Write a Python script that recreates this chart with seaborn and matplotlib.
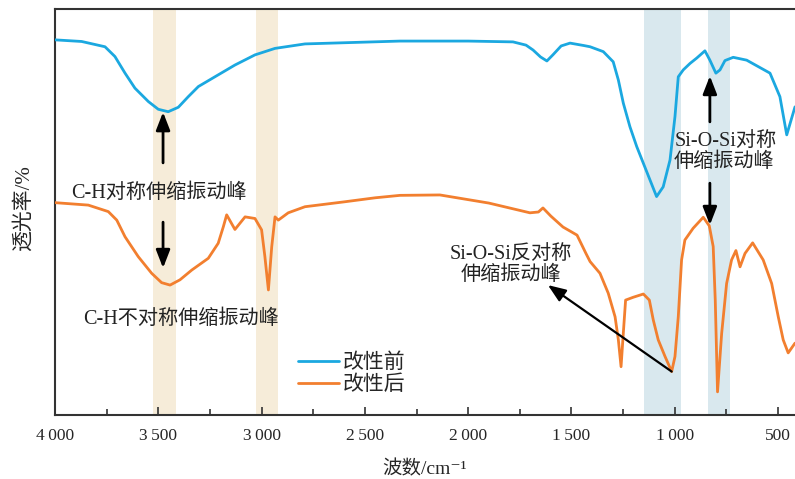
import numpy as np
import pandas as pd
import seaborn as sns
import matplotlib
matplotlib.use("Agg")
import matplotlib.pyplot as plt

# FTIR spectra: wavenumber (cm^-1) and transmittance (arb. units)
wn_before = [4000, 3871, 3758, 3710, 3661, 3613, 3548, 3500, 3452, 3403, 3355, 3306,
             3226, 3129, 3032, 2935, 2790, 2330, 2000, 1783, 1720, 1686, 1650, 1619,
             1590, 1550, 1507, 1440, 1410, 1346, 1298, 1273, 1249, 1217, 1184, 1152,
             1120, 1088, 1056, 1023, 999, 983, 959, 926, 894, 854, 830, 801, 781,
             757, 717, 652, 539, 491, 458, 418]
t_before = [92.4, 92.0, 90.7, 88.3, 84.2, 80.5, 77.2, 75.3, 74.7, 75.8, 78.4, 80.9,
            83.3, 86.2, 88.7, 90.3, 91.4, 92.1, 92.1, 91.9, 91.1, 89.9, 88.2, 87.2,
            88.7, 90.9, 91.6, 91.0, 90.7, 89.5, 87.0, 82.5, 76.8, 71.0, 66.1, 62.0,
            57.9, 53.8, 56.2, 62.8, 73.5, 83.3, 85.0, 86.6, 87.9, 89.7, 87.4, 84.2, 85.0,
            87.3, 88.1, 87.4, 84.2, 78.4, 69.0, 75.9]

wn_after = [4000, 3839, 3742, 3701, 3661, 3597, 3532, 3484, 3443, 3395, 3338, 3258,
            3210, 3185, 3169, 3129, 3080, 3032, 3000, 2984, 2967, 2951, 2935, 2919,
            2871, 2790, 2600, 2450, 2330, 2137, 1900, 1701, 1660, 1638, 1600, 1541, 1500,
            1473, 1430, 1410, 1362, 1322, 1289, 1273, 1260, 1249, 1238, 1201, 1152,
            1123, 1104, 1080, 1047, 1015, 999, 983, 967, 951, 911, 862, 833, 814,
            804, 793, 773, 749, 725, 704, 684, 660, 623, 572, 531, 499, 475, 451, 418]
t_after = [52.3, 51.7, 50.1, 48.0, 43.9, 39.0, 34.9, 32.6, 32.0, 33.3, 35.7, 38.6,
           42.3, 46.4, 49.3, 45.7, 48.8, 48.4, 45.6, 39.0, 30.8, 41.4, 48.8, 48.0,
           49.8, 51.3, 52.5, 53.5, 54.1, 54.2, 52.2, 49.8, 50.0, 51.0, 49.0, 46.3, 45.1,
           44.3, 39.8, 37.8, 34.9, 30.0, 24.2, 18.5, 11.9, 20.2, 28.3, 29.0, 29.8,
           28.3, 23.4, 18.5, 14.4, 10.7, 14.4, 24.2, 38.2, 43.1, 46.0, 48.7, 46.6, 41.5,
           28.3, 5.7, 20.1, 32.4, 38.2, 40.5, 36.5, 39.8, 42.4, 38.2, 32.4, 24.2, 18.5, 15.3, 17.7]

series_names = ["改性前", "改性后"]
series_colors = ["#1ba8e0", "#f27f2f"]

# highlighted absorption regions (cm^-1)
ch_bands = [(3526, 3414), (3027, 2921)]
sio_bands = [(1149, 970), (839, 733)]

x_ticks = [4000, 3500, 3000, 2500, 2000, 1500, 1000, 500]
x_ticklabels = ["4\u2009000", "3\u2009500", "3\u2009000", "2\u2009500",
                "2\u2009000", "1\u2009500", "1\u2009000", "500"]

sns.set_theme(style="ticks")
fam = ["Liberation Serif", "Noto Sans CJK SC", "DejaVu Sans"]
plt.rcParams["font.family"] = fam
plt.rcParams["axes.unicode_minus"] = False

df = pd.concat([
    pd.DataFrame({"wn": wn_before, "T": t_before, "样品": series_names[0]}),
    pd.DataFrame({"wn": wn_after, "T": t_after, "样品": series_names[1]}),
])

fig = plt.figure(figsize=(7.95, 4.79), dpi=100)
ax = fig.add_axes([55 / 795, 64 / 479, 740 / 795, 406 / 479])

for lo, hi in ch_bands:
    ax.axvspan(lo, hi, color="#f6ecd9", lw=0, zorder=0)
for lo, hi in sio_bands:
    ax.axvspan(lo, hi, color="#d9e8ee", lw=0, zorder=0)

sns.lineplot(data=df, x="wn", y="T", hue="样品", hue_order=series_names,
             palette=series_colors, linewidth=2.0, ax=ax, legend=False, zorder=3,
             solid_joinstyle="round", solid_capstyle="round")

ax.set_xlim(4000, 418)
ax.set_ylim(0, 100)
ax.set_xticks(x_ticks)
ax.set_xticklabels(x_ticklabels, fontsize=12.5)
ax.set_xticks(np.arange(3750, 400, -500), minor=True)
ax.set_yticks([])
ax.tick_params(axis="x", which="major", direction="in", length=6, width=1.2,
               color="#333333", pad=9)
ax.tick_params(axis="x", which="minor", direction="in", length=4, width=1.2,
               color="#333333")
for side in ["left", "top", "bottom"]:
    ax.spines[side].set_color("#333333")
    ax.spines[side].set_linewidth(1.5)
ax.spines["right"].set_visible(False)

ax.set_xlabel("波数/cm⁻¹", fontsize=14, labelpad=12)
ax.set_ylabel("透光率/%", fontsize=15)
ax.yaxis.set_label_coords(-0.029, 0.51)

arrow_kw = dict(arrowstyle="-|>,head_length=0.9,head_width=0.35", color="black",
                lw=2.0, shrinkA=0, shrinkB=0)
txt_kw = dict(fontsize=14.5, color="#222222", family=fam)

# C-H bands
ax.annotate("", xy=(3477, 74.6), xytext=(3477, 62.1), arrowprops=arrow_kw)
ax.annotate("", xy=(3477, 36.2), xytext=(3477, 47.5), arrowprops=arrow_kw)
ax.text(3498, 54.7, "C-H对称伸缩振动峰", ha="center", va="center", **txt_kw)
ax.text(3390, 23.6, "C-H不对称伸缩振动峰", ha="center", va="center", **txt_kw)

# Si-O-Si symmetric stretching
ax.annotate("", xy=(830, 83.5), xytext=(830, 72.2), arrowprops=arrow_kw)
ax.annotate("", xy=(830, 46.8), xytext=(830, 57.1), arrowprops=arrow_kw)
ax.text(1003, 64.7, "Si-O-Si对称\n伸缩振动峰", ha="left", va="center",
        linespacing=1.1, **txt_kw)

# Si-O-Si antisymmetric stretching
ax.annotate("", xy=(1614, 32.0), xytext=(1015, 10.7),
            arrowprops=dict(arrowstyle="-|>,head_length=0.9,head_width=0.35",
                            color="black", lw=1.6, shrinkA=0, shrinkB=0))
ax.text(1793, 36.9, "Si-O-Si反对称\n伸缩振动峰", ha="center", va="center",
        linespacing=1.1, **txt_kw)

handles = [plt.Line2D([], [], color=c, lw=2.0) for c in series_colors]
ax.legend(handles, series_names, loc="center left", bbox_to_anchor=(0.314, 0.100),
          frameon=False, handlelength=2.0, handletextpad=0.15,
          labelspacing=0.12, borderpad=0, prop={"family": fam, "size": 15})

fig.savefig("out.png", dpi=100)
